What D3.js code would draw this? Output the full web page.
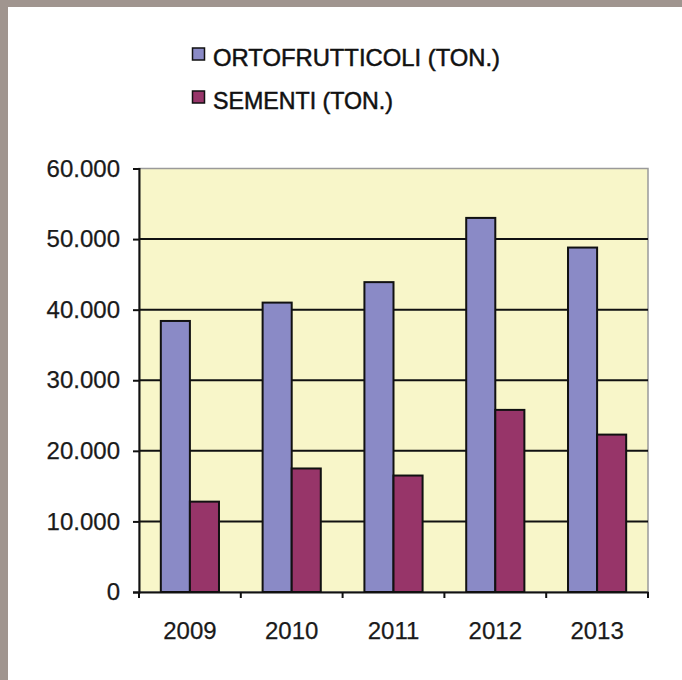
<!DOCTYPE html>
<html><head><meta charset="utf-8">
<script src="https://cdn.jsdelivr.net/npm/d3@7"></script>
<style>
html,body{margin:0;padding:0;background:#fff;}
svg{display:block;}
text{font-family:"Liberation Sans",Arial,sans-serif;}
</style></head>
<body>
<script>
const categories = ["2009","2010","2011","2012","2013"];
const seriesNames = ["ORTOFRUTTICOLI (TON.)","SEMENTI (TON.)"];
const ortofrutticoli = [38400, 41000, 43900, 53000, 48800];
const sementi = [12800, 17500, 16500, 25800, 22300];
const yTicks = [0,10000,20000,30000,40000,50000,60000];
const colors = ["#8a8ac6","#973569"];

const W=682,H=680;
const svg=d3.select("body").append("svg").attr("width",W).attr("height",H);
svg.append("rect").attr("width",W).attr("height",H).attr("fill","#a0958f");
svg.append("rect").attr("x",8).attr("y",7).attr("width",W-8).attr("height",H-7).attr("fill","#fff");

const m={l:139,r:648,t:168.5,b:592};
const x=d3.scaleBand().domain(categories).range([m.l,m.r]).paddingInner(0).paddingOuter(0);
const y=d3.scaleLinear().domain([0,60000]).range([m.b,m.t]);
const fmt=v=>d3.format(",")(v).replace(/,/g,".");

svg.append("rect").attr("x",m.l).attr("y",m.t).attr("width",m.r-m.l).attr("height",m.b-m.t)
  .attr("fill","#f8f6c9").attr("stroke","#9a9a9a").attr("stroke-width",1.5);

// gridlines
svg.append("g").selectAll("line").data(yTicks.filter(d=>d>0&&d<60000)).join("line")
  .attr("x1",m.l).attr("x2",m.r).attr("y1",d=>y(d)).attr("y2",d=>y(d))
  .attr("stroke","#111").attr("stroke-width",2);

// bars
const xs=d3.scaleBand().domain([0,1]).range([0,x.bandwidth()]).paddingInner(0).paddingOuter(0.75);
const data=[ortofrutticoli,sementi];
data.forEach((vals,si)=>{
  svg.append("g").selectAll("rect").data(vals).join("rect")
    .attr("x",(d,i)=>x(categories[i])+xs(si))
    .attr("y",d=>y(d)).attr("width",xs.bandwidth()).attr("height",d=>y(0)-y(d))
    .attr("fill",colors[si]).attr("stroke","#111").attr("stroke-width",2);
});

// y axis
const ya=svg.append("g").attr("transform",`translate(${m.l},0)`)
  .call(d3.axisLeft(y).tickValues(yTicks).tickFormat(fmt).tickSize(6).tickPadding(13));
ya.select(".domain").attr("stroke","#111").attr("stroke-width",2);
ya.selectAll(".tick line").attr("stroke","#111").attr("stroke-width",2);
ya.selectAll("text").attr("font-size",24).attr("fill","#1a1a1a").attr("stroke","#1a1a1a").attr("stroke-width",0.25)
  .attr("font-family","'Liberation Sans',Arial,sans-serif");

// x axis
const xa=svg.append("g").attr("transform",`translate(0,${m.b})`)
  .call(d3.axisBottom(x).tickSize(0).tickPadding(30));
xa.select(".domain").attr("stroke","#111").attr("stroke-width",2);
xa.selectAll("text").attr("font-size",24).attr("fill","#1a1a1a").attr("stroke","#1a1a1a").attr("stroke-width",0.25)
  .attr("font-family","'Liberation Sans',Arial,sans-serif");
const bounds=categories.map(c=>x(c)).concat([x(categories[categories.length-1])+x.bandwidth()]);
svg.append("g").selectAll("line").data(bounds).join("line")
  .attr("x1",d=>d).attr("x2",d=>d).attr("y1",m.b).attr("y2",m.b+6)
  .attr("stroke","#111").attr("stroke-width",2);

// legend
const leg=svg.append("g");
const rows=[{y:48,len:287},{y:91,len:180}];
seriesNames.forEach((n,i)=>{
  leg.append("rect").attr("x",192.5).attr("y",rows[i].y).attr("width",12).attr("height",12)
    .attr("fill",colors[i]).attr("stroke","#111").attr("stroke-width",1.5);
  leg.append("text").attr("x",213).attr("y",rows[i].y+18).attr("font-size",24)
    .attr("fill","#111").attr("textLength",rows[i].len).attr("lengthAdjust","spacingAndGlyphs")
    .attr("stroke","#111").attr("stroke-width",0.5)
    .text(n);
});
</script>
</body></html>
